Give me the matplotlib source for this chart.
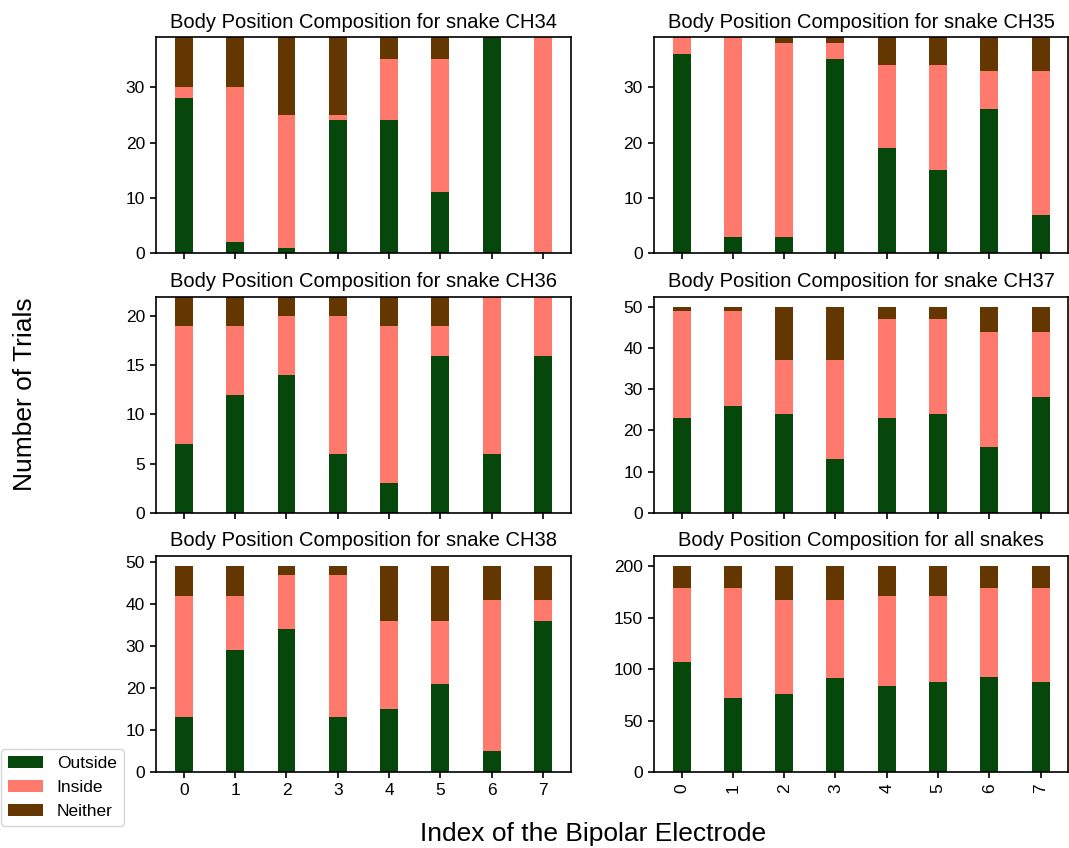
import numpy as np
import matplotlib.pyplot as plt

plt.rcParams['font.family'] = ['Liberation Sans', 'DejaVu Sans']
plt.rcParams['axes.linewidth'] = 1.2
plt.rcParams['xtick.major.width'] = 1.2
plt.rcParams['ytick.major.width'] = 1.2
plt.rcParams['xtick.major.size'] = 4.5
plt.rcParams['ytick.major.size'] = 4.5

# Trials per electrode (0..7) for each snake
electrodes = np.arange(8)
snakes = ['CH34', 'CH35', 'CH36', 'CH37', 'CH38']
outside = {
    'CH34': [28, 2, 1, 24, 24, 11, 39, 0],
    'CH35': [36, 3, 3, 35, 19, 15, 26, 7],
    'CH36': [7, 12, 14, 6, 3, 16, 6, 16],
    'CH37': [23, 26, 24, 13, 23, 24, 16, 28],
    'CH38': [13, 29, 34, 13, 15, 21, 5, 36],
}
inside = {
    'CH34': [2, 28, 24, 1, 11, 24, 0, 39],
    'CH35': [3, 36, 35, 3, 15, 19, 7, 26],
    'CH36': [12, 7, 6, 14, 16, 3, 16, 6],
    'CH37': [26, 23, 13, 24, 24, 23, 28, 16],
    'CH38': [29, 13, 13, 34, 21, 15, 36, 5],
}
neither = {
    'CH34': [10, 10, 15, 15, 5, 5, 1, 1],
    'CH35': [0, 0, 1, 1, 5, 5, 6, 6],
    'CH36': [3, 3, 2, 2, 3, 3, 0, 0],
    'CH37': [1, 1, 13, 13, 3, 3, 6, 6],
    'CH38': [7, 7, 2, 2, 13, 13, 8, 8],
}
# y limits used in the original for the first three snakes
ylims = {'CH34': 39, 'CH35': 39, 'CH36': 22}

c_out = 'xkcd:forest green'
c_in = 'xkcd:salmon'
c_nei = 'xkcd:brown'
width = 0.35

fig, axes = plt.subplots(3, 2, figsize=(10.69, 8.48), dpi=100)
fig.subplots_adjust(left=0.146, right=0.9995, top=0.956, bottom=0.0896,
                    wspace=0.2, hspace=0.2)

panels = snakes + ['all']
for ax, name in zip(axes.flat, panels):
    if name == 'all':
        o = np.sum([outside[s] for s in snakes], axis=0)
        i = np.sum([inside[s] for s in snakes], axis=0)
        n = np.sum([neither[s] for s in snakes], axis=0)
        title = 'Body Position Composition for all snakes'
    else:
        o = np.array(outside[name])
        i = np.array(inside[name])
        n = np.array(neither[name])
        title = 'Body Position Composition for snake ' + name
    ax.bar(electrodes, o, width, color=c_out, label='Outside')
    ax.bar(electrodes, i, width, bottom=o, color=c_in, label='Inside')
    ax.bar(electrodes, n, width, bottom=o + i, color=c_nei, label='Neither')
    if name in ylims:
        ax.set_ylim(0, ylims[name])
    ax.set_title(title, fontsize=14.5, pad=7)
    ax.set_xticks(electrodes)
    ax.tick_params(labelsize=12.5)

for ax in axes[:2].flat:
    ax.set_xticklabels([])
axes[2, 1].tick_params(axis='x', labelrotation=90)

handles, labels = axes[0, 0].get_legend_handles_labels()
fig.legend(handles, labels, loc='lower left', bbox_to_anchor=(-0.007, 0.016),
           fontsize=12.5)

fig.text(0.023, 0.535, 'Number of Trials', rotation=90, fontsize=19,
         ha='center', va='center')
fig.text(0.555, 0.017, 'Index of the Bipolar Electrode', fontsize=19,
         ha='center', va='center')

fig.savefig('out.png', dpi=100)
